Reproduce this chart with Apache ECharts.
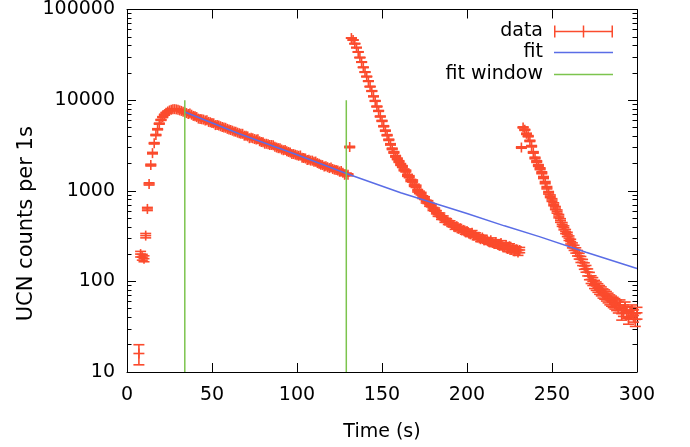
<!DOCTYPE html>
<html><head><meta charset="utf-8">
<script src="https://cdn.jsdelivr.net/npm/echarts@6/dist/echarts.min.js"></script>
<style>html,body{margin:0;padding:0;background:#fff}#c{width:690px;height:447px}</style>
</head><body><div id="c"></div>
<script>
// ---- data (counts per 1 s bin) ----
const seg1Start = 7;
const seg1Counts = [16,200,185,178,320,630,1190,1920,2600,3340,4120,4770,5500,6050,6500,6900,7250,7500,7700,7850,7950,7950,7900,7850,7700,7600,7450,7300,
7200,7050,7100,6900,6700,6650,6500,6250,6200,6150,
6100,5950,6000,5750,5700,5600,5550,5300,5300,5250,
5150,5050,5000,4950,4820,4750,4680,4600,4520,4480,
4380,4300,4250,4250,4050,4050,3980,3800,3850,3800,
3720,3680,3700,3520,3450,3420,3300,3300,3260,3200,
3200,3180,3060,3000,2950,2950,2850,2800,2820,2720,
2680,2650,2550,2540,2500,2460,2430,2450,2320,2300,
2270,2180,2200,2150,2150,2090,2100,2020,1990,1930,
1920,1850,1860,1820,1780,1800,1740,1710,1690,1670,
1630,1650,1580,1500,1530,1500,
3040];
const seg2Start = 132;
const seg2Counts = [48400,46000,42000,38000,34000,29500,26300,23000,20400,18200,
16200,14100,12600,11000,9800,8500,7600,6600,5900,5150,
4600,4100,3650,3250,2900,2650,2400,2250,2100,1950,
1850,1700,1650,1480,1430,1300,1280,1150,1120,1000,
960,930,850,830,760,750,700,690,630,620,
580,545,545,505,505,470,470,445,445,425,
420,395,405,380,385,365,370,350,360,340,
330,345,320,325,305,310,292,305,285,288,
280,272,285,265,258,272,255,248,265,242,
238,252,228,244,222,234,215,226,208,222,
3000];
const seg3Start = 233;
const seg3Counts = [5000,4700,4250,4000,3550,3100,2650,2300,2100,1900,
1750,1580,1400,1230,1080,950,870,790,710,645,
590,525,470,425,390,355,330,300,275,250,
235,220,205,190,175,162,148,138,126,115,
105,100,93,89,85,81,78,74,72,69,
66,63,61,59,57,55,52,55,44,48,
52,46,40,45,48,42,38,45];

const fitTimes  = [34, 66, 100, 129, 161, 200, 222, 243, 270, 300];
const fitCounts = [7400, 4250, 2500, 1550, 950, 560, 410, 310, 210, 139];

const windowTimes = [34, 129];
const windowRange = [10, 10000];

const yTickValues = [10, 100, 1000, 10000, 100000];
const yTickLabels = ['10', '100', '1000', '10000', '100000'];

// ---- build ----
const RED = '#fb4b2d', BLUE = '#5a6de6', GREEN = '#7cc44e';
const FONT = 'DejaVu Sans', FS = 19;

function seg(start, counts) { return counts.map((v, i) => [start + i, v]); }
const dataPoints = [].concat(seg(seg1Start, seg1Counts), seg(seg2Start, seg2Counts), seg(seg3Start, seg3Counts));
const fitLine = fitTimes.map((t, i) => [t, fitCounts[i]]);

const yMinor = [];
for (let d = 10; d < 100000; d *= 10) for (let k = 2; k <= 9; k++) yMinor.push(d * k);

const chart = echarts.init(document.getElementById('c'), null, {renderer: 'canvas'});

function yAx(position, custom, len, labels) {
  return {
    type: 'log', logBase: 10, min: 10, max: 100000, position: position,
    axisLine: {show: len > 5, lineStyle: {color: '#000', width: 1}},
    axisTick: {show: true, inside: true, length: len, customValues: custom, lineStyle: {color: '#000', width: 1}},
    axisLabel: labels ? {show: true, customValues: yTickValues,
      formatter: v => { const i = yTickValues.indexOf(v); return i >= 0 ? yTickLabels[i] : String(v); },
      fontFamily: FONT, fontSize: FS, color: '#000', margin: 12} : {show: false},
    splitLine: {show: false}, minorTick: {show: false}, minorSplitLine: {show: false}
  };
}

const yAxes = [
  Object.assign(yAx('left', yTickValues, 9, true), {
    name: 'UCN counts per 1s', nameLocation: 'middle', nameGap: 90, nameRotate: 90, nameMoveOverlap: false,
    nameTextStyle: {fontFamily: FONT, fontSize: 21, color: '#000', padding: [0, 66, 0, 0]}
  }),
  yAx('left', yMinor, 4.5, false),
  yAx('right', yTickValues, 9, false),
  yAx('right', yMinor, 4.5, false)
];

const lineIcon = 'path://M0,0H59V1.5H0Z';
const legendBase = {right: 77, align: 'right', orient: 'vertical', itemWidth: 59, itemHeight: 12, padding: 0,
  symbolKeepAspect: false,
  textStyle: {fontFamily: FONT, fontSize: FS, color: '#000', padding: [0, 6, 0, 0]}};

const option = {
  animation: false,
  backgroundColor: '#fff',
  grid: {left: 127, right: 53, top: 9, bottom: 74, containLabel: false},
  xAxis: [
    {type: 'value', min: 0, max: 300, interval: 50, position: 'bottom',
     name: 'Time (s)', nameLocation: 'middle', nameGap: 51, nameMoveOverlap: false,
     nameTextStyle: {fontFamily: FONT, fontSize: FS, color: '#000'},
     axisLine: {show: true, lineStyle: {color: '#000', width: 1}},
     axisTick: {show: true, inside: true, length: 9, lineStyle: {color: '#000'}},
     axisLabel: {fontFamily: FONT, fontSize: FS, color: '#000', margin: 14},
     splitLine: {show: false}},
    {type: 'value', min: 0, max: 300, interval: 50, position: 'top',
     axisLine: {show: true, lineStyle: {color: '#000', width: 1}},
     axisTick: {show: true, inside: true, length: 9, lineStyle: {color: '#000'}},
     axisLabel: {show: false}, splitLine: {show: false}}
  ],
  yAxis: yAxes,
  legend: [
    Object.assign({}, legendBase, {top: 22, itemStyle: {color: RED, borderWidth: 0},
      data: [{name: 'data', icon: 'path://M0,5.25H59V6.75H0Z M0,0H1.5V12H0Z M57.5,0H59V12H57.5Z M28.75,0H30.25V12H28.75Z'}]}),
    Object.assign({}, legendBase, {top: 43, itemHeight: 1.5, itemStyle: {color: BLUE, borderWidth: 0},
      data: [{name: 'fit', icon: lineIcon}]}),
    Object.assign({}, legendBase, {top: 65, itemHeight: 1.5, itemStyle: {color: GREEN, borderWidth: 0},
      data: [{name: 'fit window', icon: lineIcon}]})
  ],
  series: [
    {
      name: 'data', type: 'custom', xAxisIndex: 0, yAxisIndex: 0, clip: false,
      itemStyle: {color: RED},
      data: dataPoints,
      renderItem: function (params, api) {
        const t = api.value(0), v = api.value(1), e = Math.sqrt(v);
        const c = api.coord([t, v]);
        const hi = api.coord([t, v + e]);
        const lo = api.coord([t, Math.max(v - e, 1e-3)]);
        const hw = 5.5, ph = 5;
        const st = {stroke: RED, lineWidth: 1.6, fill: null};
        const L = (x1, y1, x2, y2) => ({type: 'line', shape: {x1, y1, x2, y2}, style: st});
        return {type: 'group', children: [
          L(c[0], hi[1], c[0], lo[1]),
          L(c[0] - hw, hi[1], c[0] + hw, hi[1]),
          L(c[0] - hw, lo[1], c[0] + hw, lo[1]),
          L(c[0] - hw, c[1], c[0] + hw, c[1]),
          L(c[0], c[1] - ph, c[0], c[1] + ph)
        ]};
      }
    },
    {
      name: 'fit', type: 'line', xAxisIndex: 0, yAxisIndex: 0, symbol: 'none', showSymbol: false,
      lineStyle: {color: BLUE, width: 1.5}, itemStyle: {color: BLUE},
      data: fitLine
    },
    {
      name: 'fit window', type: 'line', xAxisIndex: 0, yAxisIndex: 0, symbol: 'none', showSymbol: false,
      lineStyle: {color: GREEN, width: 1.5}, itemStyle: {color: GREEN},
      data: [[windowTimes[0], windowRange[0]], [windowTimes[0], windowRange[1]]]
    },
    {
      name: 'fit window', type: 'line', xAxisIndex: 0, yAxisIndex: 0, symbol: 'none', showSymbol: false,
      lineStyle: {color: GREEN, width: 1.5}, itemStyle: {color: GREEN},
      data: [[windowTimes[1], windowRange[0]], [windowTimes[1], windowRange[1]]]
    }
  ]
};
chart.setOption(option);
</script>
</body></html>
